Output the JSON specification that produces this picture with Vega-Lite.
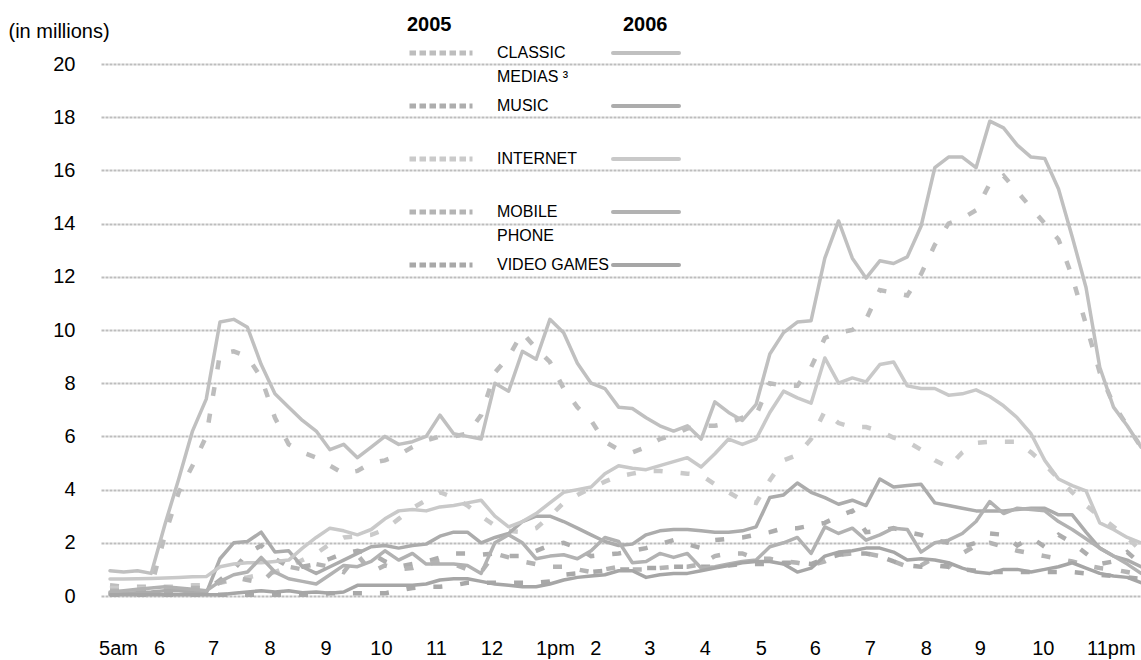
{
  "$schema": "https://vega.github.io/schema/vega-lite/v6.json",
  "width": 1040,
  "height": 532,
  "autosize": {"type": "none"},
  "padding": {"left": 101, "top": 64, "right": 0, "bottom": 64},
  "background": "#ffffff",
  "config": {"view": {"stroke": null}, "font": "Liberation Sans"},
  "datasets": {
    "y2005": [
      {"medium":"Classic medias","hour":5,"value":0.4},{"medium":"Classic medias","hour":5.25,"value":0.35},{"medium":"Classic medias","hour":5.5,"value":0.35},{"medium":"Classic medias","hour":5.75,"value":0.35},
      {"medium":"Classic medias","hour":6,"value":2.3},{"medium":"Classic medias","hour":6.25,"value":3.9},{"medium":"Classic medias","hour":6.5,"value":4.9},{"medium":"Classic medias","hour":6.75,"value":6.0},
      {"medium":"Classic medias","hour":7,"value":9.1},{"medium":"Classic medias","hour":7.25,"value":9.2},{"medium":"Classic medias","hour":7.5,"value":9.0},{"medium":"Classic medias","hour":7.75,"value":8.2},
      {"medium":"Classic medias","hour":8,"value":6.7},{"medium":"Classic medias","hour":8.25,"value":5.7},{"medium":"Classic medias","hour":8.5,"value":5.4},{"medium":"Classic medias","hour":8.75,"value":5.2},
      {"medium":"Classic medias","hour":9,"value":4.9},{"medium":"Classic medias","hour":9.25,"value":4.6},{"medium":"Classic medias","hour":9.5,"value":4.7},{"medium":"Classic medias","hour":9.75,"value":5.0},
      {"medium":"Classic medias","hour":10,"value":5.1},{"medium":"Classic medias","hour":10.25,"value":5.3},{"medium":"Classic medias","hour":10.5,"value":5.6},{"medium":"Classic medias","hour":10.75,"value":5.85},
      {"medium":"Classic medias","hour":11,"value":6.0},{"medium":"Classic medias","hour":11.25,"value":6.0},{"medium":"Classic medias","hour":11.5,"value":6.1},{"medium":"Classic medias","hour":11.75,"value":6.8},
      {"medium":"Classic medias","hour":12,"value":8.4},{"medium":"Classic medias","hour":12.25,"value":9.0},{"medium":"Classic medias","hour":12.5,"value":9.9},{"medium":"Classic medias","hour":12.75,"value":9.3},
      {"medium":"Classic medias","hour":13,"value":8.8},{"medium":"Classic medias","hour":13.25,"value":7.8},{"medium":"Classic medias","hour":13.5,"value":7.1},{"medium":"Classic medias","hour":13.75,"value":6.6},
      {"medium":"Classic medias","hour":14,"value":5.8},{"medium":"Classic medias","hour":14.25,"value":5.5},{"medium":"Classic medias","hour":14.5,"value":5.4},{"medium":"Classic medias","hour":14.75,"value":5.6},
      {"medium":"Classic medias","hour":15,"value":5.9},{"medium":"Classic medias","hour":15.25,"value":6.05},{"medium":"Classic medias","hour":15.5,"value":6.3},{"medium":"Classic medias","hour":15.75,"value":6.4},
      {"medium":"Classic medias","hour":16,"value":6.4},{"medium":"Classic medias","hour":16.25,"value":6.5},{"medium":"Classic medias","hour":16.5,"value":6.7},{"medium":"Classic medias","hour":16.75,"value":6.8},
      {"medium":"Classic medias","hour":17,"value":8.0},{"medium":"Classic medias","hour":17.25,"value":7.9},{"medium":"Classic medias","hour":17.5,"value":7.9},{"medium":"Classic medias","hour":17.75,"value":8.6},
      {"medium":"Classic medias","hour":18,"value":9.7},{"medium":"Classic medias","hour":18.25,"value":9.9},{"medium":"Classic medias","hour":18.5,"value":10.0},{"medium":"Classic medias","hour":18.75,"value":10.4},
      {"medium":"Classic medias","hour":19,"value":11.5},{"medium":"Classic medias","hour":19.25,"value":11.4},{"medium":"Classic medias","hour":19.5,"value":11.3},{"medium":"Classic medias","hour":19.75,"value":12.1},
      {"medium":"Classic medias","hour":20,"value":13.2},{"medium":"Classic medias","hour":20.25,"value":14.0},{"medium":"Classic medias","hour":20.5,"value":14.2},{"medium":"Classic medias","hour":20.75,"value":14.5},
      {"medium":"Classic medias","hour":21,"value":15.5},{"medium":"Classic medias","hour":21.25,"value":15.8},{"medium":"Classic medias","hour":21.5,"value":15.2},{"medium":"Classic medias","hour":21.75,"value":14.6},
      {"medium":"Classic medias","hour":22,"value":14.0},{"medium":"Classic medias","hour":22.25,"value":13.4},{"medium":"Classic medias","hour":22.5,"value":12.0},{"medium":"Classic medias","hour":22.75,"value":10.2},
      {"medium":"Classic medias","hour":23,"value":8.4},{"medium":"Classic medias","hour":23.25,"value":7.2},{"medium":"Classic medias","hour":23.5,"value":6.4},{"medium":"Classic medias","hour":23.75,"value":5.6},

      {"medium":"Music","hour":5,"value":0.1},{"medium":"Music","hour":5.25,"value":0.1},{"medium":"Music","hour":5.5,"value":0.1},{"medium":"Music","hour":5.75,"value":0.1},
      {"medium":"Music","hour":6,"value":0.15},{"medium":"Music","hour":6.25,"value":0.15},{"medium":"Music","hour":6.5,"value":0.15},{"medium":"Music","hour":6.75,"value":0.2},
      {"medium":"Music","hour":7,"value":0.6},{"medium":"Music","hour":7.25,"value":1.0},{"medium":"Music","hour":7.5,"value":1.6},{"medium":"Music","hour":7.75,"value":1.9},
      {"medium":"Music","hour":8,"value":1.4},{"medium":"Music","hour":8.25,"value":1.1},{"medium":"Music","hour":8.5,"value":1.1},{"medium":"Music","hour":8.75,"value":1.2},
      {"medium":"Music","hour":9,"value":1.4},{"medium":"Music","hour":9.25,"value":1.6},{"medium":"Music","hour":9.5,"value":1.7},{"medium":"Music","hour":9.75,"value":1.6},
      {"medium":"Music","hour":10,"value":1.3},{"medium":"Music","hour":10.25,"value":1.1},{"medium":"Music","hour":10.5,"value":1.2},{"medium":"Music","hour":10.75,"value":1.3},
      {"medium":"Music","hour":11,"value":1.45},{"medium":"Music","hour":11.25,"value":1.6},{"medium":"Music","hour":11.5,"value":1.6},{"medium":"Music","hour":11.75,"value":1.55},
      {"medium":"Music","hour":12,"value":1.6},{"medium":"Music","hour":12.25,"value":1.5},{"medium":"Music","hour":12.5,"value":1.5},{"medium":"Music","hour":12.75,"value":1.7},
      {"medium":"Music","hour":13,"value":1.9},{"medium":"Music","hour":13.25,"value":2.0},{"medium":"Music","hour":13.5,"value":1.8},{"medium":"Music","hour":13.75,"value":1.5},
      {"medium":"Music","hour":14,"value":1.55},{"medium":"Music","hour":14.25,"value":1.6},{"medium":"Music","hour":14.5,"value":1.7},{"medium":"Music","hour":14.75,"value":1.8},
      {"medium":"Music","hour":15,"value":1.95},{"medium":"Music","hour":15.25,"value":2.1},{"medium":"Music","hour":15.5,"value":1.95},{"medium":"Music","hour":15.75,"value":1.8},
      {"medium":"Music","hour":16,"value":2.1},{"medium":"Music","hour":16.25,"value":2.15},{"medium":"Music","hour":16.5,"value":2.2},{"medium":"Music","hour":16.75,"value":2.3},
      {"medium":"Music","hour":17,"value":2.4},{"medium":"Music","hour":17.25,"value":2.55},{"medium":"Music","hour":17.5,"value":2.55},{"medium":"Music","hour":17.75,"value":2.65},
      {"medium":"Music","hour":18,"value":2.75},{"medium":"Music","hour":18.25,"value":3.0},{"medium":"Music","hour":18.5,"value":3.2},{"medium":"Music","hour":18.75,"value":2.4},
      {"medium":"Music","hour":19,"value":2.45},{"medium":"Music","hour":19.25,"value":2.55},{"medium":"Music","hour":19.5,"value":2.4},{"medium":"Music","hour":19.75,"value":2.3},
      {"medium":"Music","hour":20,"value":2.1},{"medium":"Music","hour":20.25,"value":2.0},{"medium":"Music","hour":20.5,"value":1.85},{"medium":"Music","hour":20.75,"value":2.0},
      {"medium":"Music","hour":21,"value":2.35},{"medium":"Music","hour":21.25,"value":2.3},{"medium":"Music","hour":21.5,"value":1.9},{"medium":"Music","hour":21.75,"value":2.2},
      {"medium":"Music","hour":22,"value":1.85},{"medium":"Music","hour":22.25,"value":2.3},{"medium":"Music","hour":22.5,"value":2.0},{"medium":"Music","hour":22.75,"value":1.6},
      {"medium":"Music","hour":23,"value":1.2},{"medium":"Music","hour":23.25,"value":1.3},{"medium":"Music","hour":23.5,"value":1.65},{"medium":"Music","hour":23.75,"value":1.2},

      {"medium":"Internet","hour":5,"value":0.3},{"medium":"Internet","hour":5.25,"value":0.3},{"medium":"Internet","hour":5.5,"value":0.3},{"medium":"Internet","hour":5.75,"value":0.3},
      {"medium":"Internet","hour":6,"value":0.35},{"medium":"Internet","hour":6.25,"value":0.35},{"medium":"Internet","hour":6.5,"value":0.4},{"medium":"Internet","hour":6.75,"value":0.4},
      {"medium":"Internet","hour":7,"value":0.5},{"medium":"Internet","hour":7.25,"value":0.6},{"medium":"Internet","hour":7.5,"value":0.7},{"medium":"Internet","hour":7.75,"value":0.8},
      {"medium":"Internet","hour":8,"value":0.9},{"medium":"Internet","hour":8.25,"value":1.1},{"medium":"Internet","hour":8.5,"value":1.35},{"medium":"Internet","hour":8.75,"value":1.6},
      {"medium":"Internet","hour":9,"value":1.95},{"medium":"Internet","hour":9.25,"value":2.2},{"medium":"Internet","hour":9.5,"value":2.25},{"medium":"Internet","hour":9.75,"value":2.3},
      {"medium":"Internet","hour":10,"value":2.5},{"medium":"Internet","hour":10.25,"value":2.9},{"medium":"Internet","hour":10.5,"value":3.3},{"medium":"Internet","hour":10.75,"value":3.6},
      {"medium":"Internet","hour":11,"value":3.9},{"medium":"Internet","hour":11.25,"value":3.7},{"medium":"Internet","hour":11.5,"value":3.4},{"medium":"Internet","hour":11.75,"value":3.0},
      {"medium":"Internet","hour":12,"value":2.65},{"medium":"Internet","hour":12.25,"value":2.45},{"medium":"Internet","hour":12.5,"value":2.4},{"medium":"Internet","hour":12.75,"value":2.55},
      {"medium":"Internet","hour":13,"value":3.0},{"medium":"Internet","hour":13.25,"value":3.5},{"medium":"Internet","hour":13.5,"value":3.8},{"medium":"Internet","hour":13.75,"value":4.05},
      {"medium":"Internet","hour":14,"value":4.3},{"medium":"Internet","hour":14.25,"value":4.5},{"medium":"Internet","hour":14.5,"value":4.6},{"medium":"Internet","hour":14.75,"value":4.7},
      {"medium":"Internet","hour":15,"value":4.7},{"medium":"Internet","hour":15.25,"value":4.65},{"medium":"Internet","hour":15.5,"value":4.6},{"medium":"Internet","hour":15.75,"value":4.55},
      {"medium":"Internet","hour":16,"value":4.2},{"medium":"Internet","hour":16.25,"value":3.9},{"medium":"Internet","hour":16.5,"value":3.6},{"medium":"Internet","hour":16.75,"value":3.5},
      {"medium":"Internet","hour":17,"value":4.35},{"medium":"Internet","hour":17.25,"value":5.1},{"medium":"Internet","hour":17.5,"value":5.3},{"medium":"Internet","hour":17.75,"value":5.9},
      {"medium":"Internet","hour":18,"value":6.95},{"medium":"Internet","hour":18.25,"value":6.5},{"medium":"Internet","hour":18.5,"value":6.35},{"medium":"Internet","hour":18.75,"value":6.35},
      {"medium":"Internet","hour":19,"value":6.2},{"medium":"Internet","hour":19.25,"value":5.95},{"medium":"Internet","hour":19.5,"value":5.8},{"medium":"Internet","hour":19.75,"value":5.5},
      {"medium":"Internet","hour":20,"value":5.1},{"medium":"Internet","hour":20.25,"value":4.85},{"medium":"Internet","hour":20.5,"value":5.4},{"medium":"Internet","hour":20.75,"value":5.75},
      {"medium":"Internet","hour":21,"value":5.8},{"medium":"Internet","hour":21.25,"value":5.8},{"medium":"Internet","hour":21.5,"value":5.8},{"medium":"Internet","hour":21.75,"value":5.4},
      {"medium":"Internet","hour":22,"value":4.95},{"medium":"Internet","hour":22.25,"value":4.4},{"medium":"Internet","hour":22.5,"value":3.9},{"medium":"Internet","hour":22.75,"value":3.4},
      {"medium":"Internet","hour":23,"value":3.0},{"medium":"Internet","hour":23.25,"value":2.6},{"medium":"Internet","hour":23.5,"value":2.2},{"medium":"Internet","hour":23.75,"value":1.7},

      {"medium":"Mobile phone","hour":5,"value":0.2},{"medium":"Mobile phone","hour":5.25,"value":0.2},{"medium":"Mobile phone","hour":5.5,"value":0.2},{"medium":"Mobile phone","hour":5.75,"value":0.2},
      {"medium":"Mobile phone","hour":6,"value":0.25},{"medium":"Mobile phone","hour":6.25,"value":0.3},{"medium":"Mobile phone","hour":6.5,"value":0.3},{"medium":"Mobile phone","hour":6.75,"value":0.3},
      {"medium":"Mobile phone","hour":7,"value":0.5},{"medium":"Mobile phone","hour":7.25,"value":0.7},{"medium":"Mobile phone","hour":7.5,"value":0.6},{"medium":"Mobile phone","hour":7.75,"value":0.5},
      {"medium":"Mobile phone","hour":8,"value":1.0},{"medium":"Mobile phone","hour":8.25,"value":1.1},{"medium":"Mobile phone","hour":8.5,"value":1.0},{"medium":"Mobile phone","hour":8.75,"value":1.2},
      {"medium":"Mobile phone","hour":9,"value":1.1},{"medium":"Mobile phone","hour":9.25,"value":0.9},{"medium":"Mobile phone","hour":9.5,"value":1.55},{"medium":"Mobile phone","hour":9.75,"value":0.9},
      {"medium":"Mobile phone","hour":10,"value":1.15},{"medium":"Mobile phone","hour":10.25,"value":1.0},{"medium":"Mobile phone","hour":10.5,"value":1.05},{"medium":"Mobile phone","hour":10.75,"value":1.2},
      {"medium":"Mobile phone","hour":11,"value":1.3},{"medium":"Mobile phone","hour":11.25,"value":1.2},{"medium":"Mobile phone","hour":11.5,"value":1.0},{"medium":"Mobile phone","hour":11.75,"value":0.9},
      {"medium":"Mobile phone","hour":12,"value":1.6},{"medium":"Mobile phone","hour":12.25,"value":1.45},{"medium":"Mobile phone","hour":12.5,"value":1.3},{"medium":"Mobile phone","hour":12.75,"value":1.2},
      {"medium":"Mobile phone","hour":13,"value":1.1},{"medium":"Mobile phone","hour":13.25,"value":1.1},{"medium":"Mobile phone","hour":13.5,"value":1.0},{"medium":"Mobile phone","hour":13.75,"value":0.9},
      {"medium":"Mobile phone","hour":14,"value":1.0},{"medium":"Mobile phone","hour":14.25,"value":1.1},{"medium":"Mobile phone","hour":14.5,"value":1.0},{"medium":"Mobile phone","hour":14.75,"value":1.0},
      {"medium":"Mobile phone","hour":15,"value":1.05},{"medium":"Mobile phone","hour":15.25,"value":1.1},{"medium":"Mobile phone","hour":15.5,"value":1.1},{"medium":"Mobile phone","hour":15.75,"value":1.2},
      {"medium":"Mobile phone","hour":16,"value":1.5},{"medium":"Mobile phone","hour":16.25,"value":1.6},{"medium":"Mobile phone","hour":16.5,"value":1.6},{"medium":"Mobile phone","hour":16.75,"value":1.4},
      {"medium":"Mobile phone","hour":17,"value":1.4},{"medium":"Mobile phone","hour":17.25,"value":1.3},{"medium":"Mobile phone","hour":17.5,"value":1.25},{"medium":"Mobile phone","hour":17.75,"value":1.15},
      {"medium":"Mobile phone","hour":18,"value":1.3},{"medium":"Mobile phone","hour":18.25,"value":1.55},{"medium":"Mobile phone","hour":18.5,"value":1.6},{"medium":"Mobile phone","hour":18.75,"value":1.6},
      {"medium":"Mobile phone","hour":19,"value":1.5},{"medium":"Mobile phone","hour":19.25,"value":1.3},{"medium":"Mobile phone","hour":19.5,"value":1.1},{"medium":"Mobile phone","hour":19.75,"value":1.15},
      {"medium":"Mobile phone","hour":20,"value":1.45},{"medium":"Mobile phone","hour":20.25,"value":1.1},{"medium":"Mobile phone","hour":20.5,"value":1.6},{"medium":"Mobile phone","hour":20.75,"value":1.9},
      {"medium":"Mobile phone","hour":21,"value":2.0},{"medium":"Mobile phone","hour":21.25,"value":1.85},{"medium":"Mobile phone","hour":21.5,"value":1.7},{"medium":"Mobile phone","hour":21.75,"value":1.6},
      {"medium":"Mobile phone","hour":22,"value":1.5},{"medium":"Mobile phone","hour":22.25,"value":1.4},{"medium":"Mobile phone","hour":22.5,"value":1.3},{"medium":"Mobile phone","hour":22.75,"value":1.15},
      {"medium":"Mobile phone","hour":23,"value":1.05},{"medium":"Mobile phone","hour":23.25,"value":1.0},{"medium":"Mobile phone","hour":23.5,"value":0.9},{"medium":"Mobile phone","hour":23.75,"value":0.8},

      {"medium":"Video games","hour":5,"value":0.05},{"medium":"Video games","hour":5.25,"value":0.05},{"medium":"Video games","hour":5.5,"value":0.05},{"medium":"Video games","hour":5.75,"value":0.05},
      {"medium":"Video games","hour":6,"value":0.05},{"medium":"Video games","hour":6.25,"value":0.05},{"medium":"Video games","hour":6.5,"value":0.05},{"medium":"Video games","hour":6.75,"value":0.05},
      {"medium":"Video games","hour":7,"value":0.05},{"medium":"Video games","hour":7.25,"value":0.05},{"medium":"Video games","hour":7.5,"value":0.05},{"medium":"Video games","hour":7.75,"value":0.05},
      {"medium":"Video games","hour":8,"value":0.05},{"medium":"Video games","hour":8.25,"value":0.05},{"medium":"Video games","hour":8.5,"value":0.05},{"medium":"Video games","hour":8.75,"value":0.05},
      {"medium":"Video games","hour":9,"value":0.1},{"medium":"Video games","hour":9.25,"value":0.1},{"medium":"Video games","hour":9.5,"value":0.1},{"medium":"Video games","hour":9.75,"value":0.1},
      {"medium":"Video games","hour":10,"value":0.1},{"medium":"Video games","hour":10.25,"value":0.2},{"medium":"Video games","hour":10.5,"value":0.3},{"medium":"Video games","hour":10.75,"value":0.35},
      {"medium":"Video games","hour":11,"value":0.35},{"medium":"Video games","hour":11.25,"value":0.4},{"medium":"Video games","hour":11.5,"value":0.5},{"medium":"Video games","hour":11.75,"value":0.5},
      {"medium":"Video games","hour":12,"value":0.5},{"medium":"Video games","hour":12.25,"value":0.5},{"medium":"Video games","hour":12.5,"value":0.5},{"medium":"Video games","hour":12.75,"value":0.5},
      {"medium":"Video games","hour":13,"value":0.55},{"medium":"Video games","hour":13.25,"value":0.8},{"medium":"Video games","hour":13.5,"value":0.85},{"medium":"Video games","hour":13.75,"value":0.9},
      {"medium":"Video games","hour":14,"value":0.95},{"medium":"Video games","hour":14.25,"value":1.0},{"medium":"Video games","hour":14.5,"value":1.0},{"medium":"Video games","hour":14.75,"value":1.05},
      {"medium":"Video games","hour":15,"value":1.05},{"medium":"Video games","hour":15.25,"value":1.1},{"medium":"Video games","hour":15.5,"value":1.1},{"medium":"Video games","hour":15.75,"value":1.1},
      {"medium":"Video games","hour":16,"value":1.1},{"medium":"Video games","hour":16.25,"value":1.15},{"medium":"Video games","hour":16.5,"value":1.2},{"medium":"Video games","hour":16.75,"value":1.2},
      {"medium":"Video games","hour":17,"value":1.2},{"medium":"Video games","hour":17.25,"value":1.25},{"medium":"Video games","hour":17.5,"value":1.25},{"medium":"Video games","hour":17.75,"value":1.2},
      {"medium":"Video games","hour":18,"value":1.4},{"medium":"Video games","hour":18.25,"value":1.55},{"medium":"Video games","hour":18.5,"value":1.6},{"medium":"Video games","hour":18.75,"value":1.6},
      {"medium":"Video games","hour":19,"value":1.5},{"medium":"Video games","hour":19.25,"value":1.3},{"medium":"Video games","hour":19.5,"value":1.15},{"medium":"Video games","hour":19.75,"value":1.1},
      {"medium":"Video games","hour":20,"value":1.15},{"medium":"Video games","hour":20.25,"value":1.1},{"medium":"Video games","hour":20.5,"value":1.0},{"medium":"Video games","hour":20.75,"value":0.95},
      {"medium":"Video games","hour":21,"value":0.9},{"medium":"Video games","hour":21.25,"value":0.9},{"medium":"Video games","hour":21.5,"value":0.9},{"medium":"Video games","hour":21.75,"value":0.9},
      {"medium":"Video games","hour":22,"value":0.9},{"medium":"Video games","hour":22.25,"value":0.9},{"medium":"Video games","hour":22.5,"value":0.9},{"medium":"Video games","hour":22.75,"value":0.85},
      {"medium":"Video games","hour":23,"value":0.8},{"medium":"Video games","hour":23.25,"value":0.75},{"medium":"Video games","hour":23.5,"value":0.7},{"medium":"Video games","hour":23.75,"value":0.65}
    ],
    "y2006": [
      {"medium":"Classic medias","hour":5,"value":0.95},{"medium":"Classic medias","hour":5.25,"value":0.9},{"medium":"Classic medias","hour":5.5,"value":0.95},{"medium":"Classic medias","hour":5.75,"value":0.85},
      {"medium":"Classic medias","hour":6,"value":2.7},{"medium":"Classic medias","hour":6.25,"value":4.4},{"medium":"Classic medias","hour":6.5,"value":6.2},{"medium":"Classic medias","hour":6.75,"value":7.4},
      {"medium":"Classic medias","hour":7,"value":10.3},{"medium":"Classic medias","hour":7.25,"value":10.4},{"medium":"Classic medias","hour":7.5,"value":10.1},{"medium":"Classic medias","hour":7.75,"value":8.7},
      {"medium":"Classic medias","hour":8,"value":7.6},{"medium":"Classic medias","hour":8.25,"value":7.1},{"medium":"Classic medias","hour":8.5,"value":6.6},{"medium":"Classic medias","hour":8.75,"value":6.2},
      {"medium":"Classic medias","hour":9,"value":5.5},{"medium":"Classic medias","hour":9.25,"value":5.7},{"medium":"Classic medias","hour":9.5,"value":5.2},{"medium":"Classic medias","hour":9.75,"value":5.6},
      {"medium":"Classic medias","hour":10,"value":6.0},{"medium":"Classic medias","hour":10.25,"value":5.7},{"medium":"Classic medias","hour":10.5,"value":5.8},{"medium":"Classic medias","hour":10.75,"value":6.0},
      {"medium":"Classic medias","hour":11,"value":6.8},{"medium":"Classic medias","hour":11.25,"value":6.1},{"medium":"Classic medias","hour":11.5,"value":6.0},{"medium":"Classic medias","hour":11.75,"value":5.9},
      {"medium":"Classic medias","hour":12,"value":8.0},{"medium":"Classic medias","hour":12.25,"value":7.7},{"medium":"Classic medias","hour":12.5,"value":9.2},{"medium":"Classic medias","hour":12.75,"value":8.9},
      {"medium":"Classic medias","hour":13,"value":10.4},{"medium":"Classic medias","hour":13.25,"value":9.9},{"medium":"Classic medias","hour":13.5,"value":8.75},{"medium":"Classic medias","hour":13.75,"value":8.0},
      {"medium":"Classic medias","hour":14,"value":7.8},{"medium":"Classic medias","hour":14.25,"value":7.1},{"medium":"Classic medias","hour":14.5,"value":7.05},{"medium":"Classic medias","hour":14.75,"value":6.7},
      {"medium":"Classic medias","hour":15,"value":6.4},{"medium":"Classic medias","hour":15.25,"value":6.2},{"medium":"Classic medias","hour":15.5,"value":6.4},{"medium":"Classic medias","hour":15.75,"value":5.9},
      {"medium":"Classic medias","hour":16,"value":7.3},{"medium":"Classic medias","hour":16.25,"value":6.9},{"medium":"Classic medias","hour":16.5,"value":6.6},{"medium":"Classic medias","hour":16.75,"value":7.2},
      {"medium":"Classic medias","hour":17,"value":9.1},{"medium":"Classic medias","hour":17.25,"value":9.9},{"medium":"Classic medias","hour":17.5,"value":10.3},{"medium":"Classic medias","hour":17.75,"value":10.35},
      {"medium":"Classic medias","hour":18,"value":12.7},{"medium":"Classic medias","hour":18.25,"value":14.1},{"medium":"Classic medias","hour":18.5,"value":12.7},{"medium":"Classic medias","hour":18.75,"value":11.95},
      {"medium":"Classic medias","hour":19,"value":12.6},{"medium":"Classic medias","hour":19.25,"value":12.5},{"medium":"Classic medias","hour":19.5,"value":12.75},{"medium":"Classic medias","hour":19.75,"value":13.9},
      {"medium":"Classic medias","hour":20,"value":16.1},{"medium":"Classic medias","hour":20.25,"value":16.5},{"medium":"Classic medias","hour":20.5,"value":16.5},{"medium":"Classic medias","hour":20.75,"value":16.1},
      {"medium":"Classic medias","hour":21,"value":17.85},{"medium":"Classic medias","hour":21.25,"value":17.6},{"medium":"Classic medias","hour":21.5,"value":16.95},{"medium":"Classic medias","hour":21.75,"value":16.5},
      {"medium":"Classic medias","hour":22,"value":16.45},{"medium":"Classic medias","hour":22.25,"value":15.3},{"medium":"Classic medias","hour":22.5,"value":13.5},{"medium":"Classic medias","hour":22.75,"value":11.6},
      {"medium":"Classic medias","hour":23,"value":8.6},{"medium":"Classic medias","hour":23.25,"value":7.1},{"medium":"Classic medias","hour":23.5,"value":6.4},{"medium":"Classic medias","hour":23.75,"value":5.6},

      {"medium":"Music","hour":5,"value":0.1},{"medium":"Music","hour":5.25,"value":0.1},{"medium":"Music","hour":5.5,"value":0.12},{"medium":"Music","hour":5.75,"value":0.15},
      {"medium":"Music","hour":6,"value":0.2},{"medium":"Music","hour":6.25,"value":0.2},{"medium":"Music","hour":6.5,"value":0.15},{"medium":"Music","hour":6.75,"value":0.1},
      {"medium":"Music","hour":7,"value":1.4},{"medium":"Music","hour":7.25,"value":2.0},{"medium":"Music","hour":7.5,"value":2.05},{"medium":"Music","hour":7.75,"value":2.4},
      {"medium":"Music","hour":8,"value":1.65},{"medium":"Music","hour":8.25,"value":1.7},{"medium":"Music","hour":8.5,"value":1.1},{"medium":"Music","hour":8.75,"value":0.85},
      {"medium":"Music","hour":9,"value":1.1},{"medium":"Music","hour":9.25,"value":1.35},{"medium":"Music","hour":9.5,"value":1.6},{"medium":"Music","hour":9.75,"value":1.85},
      {"medium":"Music","hour":10,"value":1.9},{"medium":"Music","hour":10.25,"value":1.8},{"medium":"Music","hour":10.5,"value":1.9},{"medium":"Music","hour":10.75,"value":1.95},
      {"medium":"Music","hour":11,"value":2.25},{"medium":"Music","hour":11.25,"value":2.4},{"medium":"Music","hour":11.5,"value":2.4},{"medium":"Music","hour":11.75,"value":2.0},
      {"medium":"Music","hour":12,"value":2.2},{"medium":"Music","hour":12.25,"value":2.35},{"medium":"Music","hour":12.5,"value":2.8},{"medium":"Music","hour":12.75,"value":3.0},
      {"medium":"Music","hour":13,"value":3.0},{"medium":"Music","hour":13.25,"value":2.8},{"medium":"Music","hour":13.5,"value":2.55},{"medium":"Music","hour":13.75,"value":2.3},
      {"medium":"Music","hour":14,"value":2.05},{"medium":"Music","hour":14.25,"value":1.9},{"medium":"Music","hour":14.5,"value":1.95},{"medium":"Music","hour":14.75,"value":2.3},
      {"medium":"Music","hour":15,"value":2.45},{"medium":"Music","hour":15.25,"value":2.5},{"medium":"Music","hour":15.5,"value":2.5},{"medium":"Music","hour":15.75,"value":2.45},
      {"medium":"Music","hour":16,"value":2.4},{"medium":"Music","hour":16.25,"value":2.4},{"medium":"Music","hour":16.5,"value":2.45},{"medium":"Music","hour":16.75,"value":2.6},
      {"medium":"Music","hour":17,"value":3.7},{"medium":"Music","hour":17.25,"value":3.8},{"medium":"Music","hour":17.5,"value":4.25},{"medium":"Music","hour":17.75,"value":3.9},
      {"medium":"Music","hour":18,"value":3.7},{"medium":"Music","hour":18.25,"value":3.45},{"medium":"Music","hour":18.5,"value":3.6},{"medium":"Music","hour":18.75,"value":3.4},
      {"medium":"Music","hour":19,"value":4.4},{"medium":"Music","hour":19.25,"value":4.1},{"medium":"Music","hour":19.5,"value":4.15},{"medium":"Music","hour":19.75,"value":4.2},
      {"medium":"Music","hour":20,"value":3.5},{"medium":"Music","hour":20.25,"value":3.4},{"medium":"Music","hour":20.5,"value":3.3},{"medium":"Music","hour":20.75,"value":3.2},
      {"medium":"Music","hour":21,"value":3.2},{"medium":"Music","hour":21.25,"value":3.2},{"medium":"Music","hour":21.5,"value":3.25},{"medium":"Music","hour":21.75,"value":3.3},
      {"medium":"Music","hour":22,"value":3.3},{"medium":"Music","hour":22.25,"value":3.05},{"medium":"Music","hour":22.5,"value":3.05},{"medium":"Music","hour":22.75,"value":2.4},
      {"medium":"Music","hour":23,"value":1.8},{"medium":"Music","hour":23.25,"value":1.5},{"medium":"Music","hour":23.5,"value":1.35},{"medium":"Music","hour":23.75,"value":1.1},

      {"medium":"Internet","hour":5,"value":0.64},{"medium":"Internet","hour":5.25,"value":0.64},{"medium":"Internet","hour":5.5,"value":0.65},{"medium":"Internet","hour":5.75,"value":0.66},
      {"medium":"Internet","hour":6,"value":0.68},{"medium":"Internet","hour":6.25,"value":0.7},{"medium":"Internet","hour":6.5,"value":0.72},{"medium":"Internet","hour":6.75,"value":0.73},
      {"medium":"Internet","hour":7,"value":1.1},{"medium":"Internet","hour":7.25,"value":1.2},{"medium":"Internet","hour":7.5,"value":1.25},{"medium":"Internet","hour":7.75,"value":1.25},
      {"medium":"Internet","hour":8,"value":1.3},{"medium":"Internet","hour":8.25,"value":1.35},{"medium":"Internet","hour":8.5,"value":1.8},{"medium":"Internet","hour":8.75,"value":2.2},
      {"medium":"Internet","hour":9,"value":2.55},{"medium":"Internet","hour":9.25,"value":2.45},{"medium":"Internet","hour":9.5,"value":2.3},{"medium":"Internet","hour":9.75,"value":2.5},
      {"medium":"Internet","hour":10,"value":2.9},{"medium":"Internet","hour":10.25,"value":3.2},{"medium":"Internet","hour":10.5,"value":3.25},{"medium":"Internet","hour":10.75,"value":3.2},
      {"medium":"Internet","hour":11,"value":3.35},{"medium":"Internet","hour":11.25,"value":3.4},{"medium":"Internet","hour":11.5,"value":3.5},{"medium":"Internet","hour":11.75,"value":3.6},
      {"medium":"Internet","hour":12,"value":3.0},{"medium":"Internet","hour":12.25,"value":2.6},{"medium":"Internet","hour":12.5,"value":2.8},{"medium":"Internet","hour":12.75,"value":3.1},
      {"medium":"Internet","hour":13,"value":3.5},{"medium":"Internet","hour":13.25,"value":3.9},{"medium":"Internet","hour":13.5,"value":4.0},{"medium":"Internet","hour":13.75,"value":4.1},
      {"medium":"Internet","hour":14,"value":4.6},{"medium":"Internet","hour":14.25,"value":4.9},{"medium":"Internet","hour":14.5,"value":4.8},{"medium":"Internet","hour":14.75,"value":4.75},
      {"medium":"Internet","hour":15,"value":4.9},{"medium":"Internet","hour":15.25,"value":5.05},{"medium":"Internet","hour":15.5,"value":5.2},{"medium":"Internet","hour":15.75,"value":4.85},
      {"medium":"Internet","hour":16,"value":5.35},{"medium":"Internet","hour":16.25,"value":5.9},{"medium":"Internet","hour":16.5,"value":5.7},{"medium":"Internet","hour":16.75,"value":5.9},
      {"medium":"Internet","hour":17,"value":6.9},{"medium":"Internet","hour":17.25,"value":7.7},{"medium":"Internet","hour":17.5,"value":7.45},{"medium":"Internet","hour":17.75,"value":7.25},
      {"medium":"Internet","hour":18,"value":8.95},{"medium":"Internet","hour":18.25,"value":8.0},{"medium":"Internet","hour":18.5,"value":8.2},{"medium":"Internet","hour":18.75,"value":8.05},
      {"medium":"Internet","hour":19,"value":8.7},{"medium":"Internet","hour":19.25,"value":8.8},{"medium":"Internet","hour":19.5,"value":7.9},{"medium":"Internet","hour":19.75,"value":7.8},
      {"medium":"Internet","hour":20,"value":7.8},{"medium":"Internet","hour":20.25,"value":7.55},{"medium":"Internet","hour":20.5,"value":7.6},{"medium":"Internet","hour":20.75,"value":7.75},
      {"medium":"Internet","hour":21,"value":7.5},{"medium":"Internet","hour":21.25,"value":7.15},{"medium":"Internet","hour":21.5,"value":6.7},{"medium":"Internet","hour":21.75,"value":6.1},
      {"medium":"Internet","hour":22,"value":5.1},{"medium":"Internet","hour":22.25,"value":4.4},{"medium":"Internet","hour":22.5,"value":4.15},{"medium":"Internet","hour":22.75,"value":3.95},
      {"medium":"Internet","hour":23,"value":2.75},{"medium":"Internet","hour":23.25,"value":2.5},{"medium":"Internet","hour":23.5,"value":2.2},{"medium":"Internet","hour":23.75,"value":2.0},

      {"medium":"Mobile phone","hour":5,"value":0.15},{"medium":"Mobile phone","hour":5.25,"value":0.2},{"medium":"Mobile phone","hour":5.5,"value":0.25},{"medium":"Mobile phone","hour":5.75,"value":0.3},
      {"medium":"Mobile phone","hour":6,"value":0.35},{"medium":"Mobile phone","hour":6.25,"value":0.3},{"medium":"Mobile phone","hour":6.5,"value":0.25},{"medium":"Mobile phone","hour":6.75,"value":0.2},
      {"medium":"Mobile phone","hour":7,"value":0.55},{"medium":"Mobile phone","hour":7.25,"value":0.8},{"medium":"Mobile phone","hour":7.5,"value":0.9},{"medium":"Mobile phone","hour":7.75,"value":1.45},
      {"medium":"Mobile phone","hour":8,"value":0.9},{"medium":"Mobile phone","hour":8.25,"value":0.65},{"medium":"Mobile phone","hour":8.5,"value":0.55},{"medium":"Mobile phone","hour":8.75,"value":0.45},
      {"medium":"Mobile phone","hour":9,"value":0.8},{"medium":"Mobile phone","hour":9.25,"value":1.15},{"medium":"Mobile phone","hour":9.5,"value":1.1},{"medium":"Mobile phone","hour":9.75,"value":1.3},
      {"medium":"Mobile phone","hour":10,"value":1.7},{"medium":"Mobile phone","hour":10.25,"value":1.35},{"medium":"Mobile phone","hour":10.5,"value":1.6},{"medium":"Mobile phone","hour":10.75,"value":1.2},
      {"medium":"Mobile phone","hour":11,"value":1.2},{"medium":"Mobile phone","hour":11.25,"value":1.2},{"medium":"Mobile phone","hour":11.5,"value":1.15},{"medium":"Mobile phone","hour":11.75,"value":0.85},
      {"medium":"Mobile phone","hour":12,"value":2.0},{"medium":"Mobile phone","hour":12.25,"value":2.3},{"medium":"Mobile phone","hour":12.5,"value":2.0},{"medium":"Mobile phone","hour":12.75,"value":1.4},
      {"medium":"Mobile phone","hour":13,"value":1.5},{"medium":"Mobile phone","hour":13.25,"value":1.55},{"medium":"Mobile phone","hour":13.5,"value":1.4},{"medium":"Mobile phone","hour":13.75,"value":1.7},
      {"medium":"Mobile phone","hour":14,"value":2.2},{"medium":"Mobile phone","hour":14.25,"value":2.05},{"medium":"Mobile phone","hour":14.5,"value":1.25},{"medium":"Mobile phone","hour":14.75,"value":1.3},
      {"medium":"Mobile phone","hour":15,"value":1.6},{"medium":"Mobile phone","hour":15.25,"value":1.45},{"medium":"Mobile phone","hour":15.5,"value":1.6},{"medium":"Mobile phone","hour":15.75,"value":1.05},
      {"medium":"Mobile phone","hour":16,"value":1.1},{"medium":"Mobile phone","hour":16.25,"value":1.2},{"medium":"Mobile phone","hour":16.5,"value":1.3},{"medium":"Mobile phone","hour":16.75,"value":1.35},
      {"medium":"Mobile phone","hour":17,"value":1.85},{"medium":"Mobile phone","hour":17.25,"value":2.0},{"medium":"Mobile phone","hour":17.5,"value":2.2},{"medium":"Mobile phone","hour":17.75,"value":1.6},
      {"medium":"Mobile phone","hour":18,"value":2.6},{"medium":"Mobile phone","hour":18.25,"value":2.35},{"medium":"Mobile phone","hour":18.5,"value":2.55},{"medium":"Mobile phone","hour":18.75,"value":2.1},
      {"medium":"Mobile phone","hour":19,"value":2.3},{"medium":"Mobile phone","hour":19.25,"value":2.55},{"medium":"Mobile phone","hour":19.5,"value":2.5},{"medium":"Mobile phone","hour":19.75,"value":1.65},
      {"medium":"Mobile phone","hour":20,"value":2.0},{"medium":"Mobile phone","hour":20.25,"value":2.1},{"medium":"Mobile phone","hour":20.5,"value":2.35},{"medium":"Mobile phone","hour":20.75,"value":2.8},
      {"medium":"Mobile phone","hour":21,"value":3.55},{"medium":"Mobile phone","hour":21.25,"value":3.1},{"medium":"Mobile phone","hour":21.5,"value":3.3},{"medium":"Mobile phone","hour":21.75,"value":3.25},
      {"medium":"Mobile phone","hour":22,"value":3.2},{"medium":"Mobile phone","hour":22.25,"value":2.8},{"medium":"Mobile phone","hour":22.5,"value":2.5},{"medium":"Mobile phone","hour":22.75,"value":2.15},
      {"medium":"Mobile phone","hour":23,"value":1.8},{"medium":"Mobile phone","hour":23.25,"value":1.5},{"medium":"Mobile phone","hour":23.5,"value":1.2},{"medium":"Mobile phone","hour":23.75,"value":0.85},

      {"medium":"Video games","hour":5,"value":0.05},{"medium":"Video games","hour":5.25,"value":0.05},{"medium":"Video games","hour":5.5,"value":0.05},{"medium":"Video games","hour":5.75,"value":0.05},
      {"medium":"Video games","hour":6,"value":0.05},{"medium":"Video games","hour":6.25,"value":0.05},{"medium":"Video games","hour":6.5,"value":0.05},{"medium":"Video games","hour":6.75,"value":0.05},
      {"medium":"Video games","hour":7,"value":0.05},{"medium":"Video games","hour":7.25,"value":0.1},{"medium":"Video games","hour":7.5,"value":0.15},{"medium":"Video games","hour":7.75,"value":0.2},
      {"medium":"Video games","hour":8,"value":0.15},{"medium":"Video games","hour":8.25,"value":0.2},{"medium":"Video games","hour":8.5,"value":0.12},{"medium":"Video games","hour":8.75,"value":0.15},
      {"medium":"Video games","hour":9,"value":0.1},{"medium":"Video games","hour":9.25,"value":0.15},{"medium":"Video games","hour":9.5,"value":0.4},{"medium":"Video games","hour":9.75,"value":0.4},
      {"medium":"Video games","hour":10,"value":0.4},{"medium":"Video games","hour":10.25,"value":0.4},{"medium":"Video games","hour":10.5,"value":0.4},{"medium":"Video games","hour":10.75,"value":0.45},
      {"medium":"Video games","hour":11,"value":0.6},{"medium":"Video games","hour":11.25,"value":0.65},{"medium":"Video games","hour":11.5,"value":0.65},{"medium":"Video games","hour":11.75,"value":0.55},
      {"medium":"Video games","hour":12,"value":0.45},{"medium":"Video games","hour":12.25,"value":0.4},{"medium":"Video games","hour":12.5,"value":0.35},{"medium":"Video games","hour":12.75,"value":0.35},
      {"medium":"Video games","hour":13,"value":0.45},{"medium":"Video games","hour":13.25,"value":0.6},{"medium":"Video games","hour":13.5,"value":0.7},{"medium":"Video games","hour":13.75,"value":0.75},
      {"medium":"Video games","hour":14,"value":0.8},{"medium":"Video games","hour":14.25,"value":0.95},{"medium":"Video games","hour":14.5,"value":0.95},{"medium":"Video games","hour":14.75,"value":0.7},
      {"medium":"Video games","hour":15,"value":0.8},{"medium":"Video games","hour":15.25,"value":0.85},{"medium":"Video games","hour":15.5,"value":0.85},{"medium":"Video games","hour":15.75,"value":0.95},
      {"medium":"Video games","hour":16,"value":1.05},{"medium":"Video games","hour":16.25,"value":1.15},{"medium":"Video games","hour":16.5,"value":1.25},{"medium":"Video games","hour":16.75,"value":1.3},
      {"medium":"Video games","hour":17,"value":1.3},{"medium":"Video games","hour":17.25,"value":1.2},{"medium":"Video games","hour":17.5,"value":0.9},{"medium":"Video games","hour":17.75,"value":1.05},
      {"medium":"Video games","hour":18,"value":1.5},{"medium":"Video games","hour":18.25,"value":1.65},{"medium":"Video games","hour":18.5,"value":1.7},{"medium":"Video games","hour":18.75,"value":1.8},
      {"medium":"Video games","hour":19,"value":1.8},{"medium":"Video games","hour":19.25,"value":1.65},{"medium":"Video games","hour":19.5,"value":1.35},{"medium":"Video games","hour":19.75,"value":1.4},
      {"medium":"Video games","hour":20,"value":1.35},{"medium":"Video games","hour":20.25,"value":1.25},{"medium":"Video games","hour":20.5,"value":1.05},{"medium":"Video games","hour":20.75,"value":0.9},
      {"medium":"Video games","hour":21,"value":0.85},{"medium":"Video games","hour":21.25,"value":1.0},{"medium":"Video games","hour":21.5,"value":1.0},{"medium":"Video games","hour":21.75,"value":0.9},
      {"medium":"Video games","hour":22,"value":1.0},{"medium":"Video games","hour":22.25,"value":1.1},{"medium":"Video games","hour":22.5,"value":1.25},{"medium":"Video games","hour":22.75,"value":1.05},
      {"medium":"Video games","hour":23,"value":0.85},{"medium":"Video games","hour":23.25,"value":0.75},{"medium":"Video games","hour":23.5,"value":0.7},{"medium":"Video games","hour":23.75,"value":0.5}
    ]
  },
  "encoding": {
    "x": {
      "field": "hour", "type": "quantitative",
      "scale": {"domain": [4.8364, 23.75], "nice": false, "zero": false},
      "axis": {
        "title": null, "values": [5,6,7,8,9,10,11,12,13,14,15,16,17,18,19,20,21,22,23],
        "domain": false, "ticks": false, "grid": false,
        "labelFont": "Liberation Sans", "labelFontSize": 20, "labelColor": "#000000",
        "labelPadding": 42, "labelFlush": false, "labelOverlap": false,
        "labelExpr": "datum.value == 5 ? '5am' : datum.value == 13 ? '1pm' : datum.value == 23 ? '11pm' : datum.value > 12 ? '' + (datum.value - 12) : '' + datum.value",
        "labelOffset": {"expr": "[8,-6,-7,-5.5,-4.5,-4,-4,-3.5,5,-9.5,-10.5,-10,-9,-10,-10,-9,-10,-2,11][datum.value - 5]"}
      }
    },
    "y": {
      "field": "value", "type": "quantitative",
      "scale": {"domain": [0, 20], "nice": false},
      "axis": {
        "title": "(in millions)", "titleAngle": 0, "titleAlign": "left", "titleBaseline": "middle",
        "titleX": -93, "titleY": -33, "titleFont": "Liberation Sans", "titleFontSize": 20, "titleFontWeight": "normal", "titleColor": "#000000",
        "values": [0,2,4,6,8,10,12,14,16,18,20],
        "domain": false, "ticks": false,
        "labelFont": "Liberation Sans", "labelFontSize": 20, "labelColor": "#000000", "labelPadding": 26,
        "grid": true, "gridColor": "#bdbdbd", "gridWidth": 2, "gridDash": [3, 1]
      }
    }
  },
  "layer": [
    {
      "data": {"name": "y2005"},
      "mark": {"type": "line", "strokeWidth": 4.5, "strokeDash": [9, 18], "strokeCap": "butt"},
      "encoding": {
        "stroke": {
          "field": "medium", "type": "nominal",
          "sort": ["Classic medias", "Music", "Internet", "Mobile phone", "Video games"],
          "scale": {"range": ["#bdbdbd", "#adadad", "#cacaca", "#b4b4b4", "#a8a8a8"]},
          "legend": {
            "title": "2005", "orient": "none", "legendX": 306, "legendY": -49, "padding": 0,
            "titleFont": "Liberation Sans", "titleFontSize": 20, "titleFontWeight": "bold", "titleColor": "#000000", "titlePadding": 5, "titleAnchor": "start",
            "symbolType": "M-1,0H5", "symbolSize": 441, "symbolStrokeWidth": 5, "symbolDash": [6.5, 3.5],
            "labelFont": "Liberation Sans", "labelFontSize": 16, "labelColor": "#000000", "labelOffset": 64, "labelLimit": 300, "labelBaseline": "middle",
            "labelExpr": "datum.label == 'Classic medias' ? ['CLASSIC', 'MEDIAS  ³'] : datum.label == 'Mobile phone' ? ['MOBILE', 'PHONE'] : [upper(datum.label), '']",
            "rowPadding": 8,
            "encoding": {"labels": {"lineHeight": {"value": 24}}}
          }
        }
      }
    },
    {
      "data": {"name": "y2006"},
      "mark": {"type": "line", "strokeWidth": 3.5, "strokeCap": "round", "strokeJoin": "round"},
      "encoding": {
        "color": {
          "field": "medium", "type": "nominal",
          "sort": ["Classic medias", "Music", "Internet", "Mobile phone", "Video games"],
          "scale": {"range": ["#c0c0c0", "#acacac", "#c9c9c9", "#b2b2b2", "#a6a6a6"]},
          "legend": {
            "title": "2006", "orient": "none", "legendX": 510, "legendY": -49, "padding": 0,
            "titleFont": "Liberation Sans", "titleFontSize": 20, "titleFontWeight": "bold", "titleColor": "#000000", "titlePadding": 5, "titleAnchor": "start",
            "symbolType": "M-1,0H5", "symbolSize": 484, "symbolStrokeWidth": 4,
            "labelFont": "Liberation Sans", "labelFontSize": 16, "labelColor": "#000000", "labelOpacity": 0, "labelOffset": 64, "labelLimit": 300, "labelBaseline": "middle",
            "labelExpr": "datum.label == 'Classic medias' ? ['CLASSIC', 'MEDIAS  ³'] : datum.label == 'Mobile phone' ? ['MOBILE', 'PHONE'] : [upper(datum.label), '']",
            "rowPadding": 8,
            "encoding": {"labels": {"lineHeight": {"value": 24}}, "title": {"dx": {"value": 12}}, "symbols": {"strokeCap": {"value": "round"}}}
          }
        }
      }
    }
  ]
}
